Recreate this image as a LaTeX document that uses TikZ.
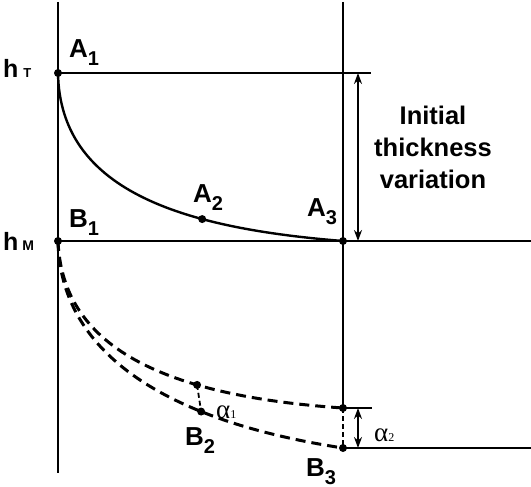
\documentclass[tikz,border=0pt]{standalone}
\usepackage{fontspec}
\setmainfont{Liberation Sans}
\newfontfamily\serifgr{Liberation Serif}
\usetikzlibrary{arrows.meta}
\newcommand\lab[2]{#1\raisebox{-8pt}{\fontsize{20}{20}\selectfont #2}}
\tikzset{
  thinline/.style={line width=1.3pt},
  curveline/.style={line width=2.4pt},
  dashcurve/.style={line width=3pt, dash pattern=on 10pt off 6pt},
  shortdash/.style={line width=1.8pt, dash pattern=on 5pt off 3pt},
  dot/.style={circle, fill=black, inner sep=0pt, minimum size=8pt},
  lbl/.style={font=\bfseries\fontsize{26}{26}\selectfont, inner sep=0pt, anchor=base west},
  hlbl/.style={font=\bfseries\fontsize{25}{25}\selectfont, inner sep=0pt, anchor=base west},
  albl/.style={font=\serifgr\fontsize{27}{27}\selectfont, inner sep=0pt, anchor=base west},
  dimarrow/.style={line width=1.8pt, {Stealth[length=11pt,width=8pt]}-{Stealth[length=11pt,width=8pt]}}
}
\begin{document}
\begin{tikzpicture}[x=1pt,y=-1pt]
\useasboundingbox (0,0) rectangle (531,487);
% reference coordinates
\coordinate (L0) at (58,2);
\coordinate (L1) at (58,473);
\coordinate (R0) at (343,2);
\coordinate (A1) at (58,73);
\coordinate (B1) at (58,241);
\coordinate (A3) at (343,241);
\coordinate (TE) at (371,73);
\coordinate (ME) at (531,241);
\coordinate (C2) at (343,408);
\coordinate (B3) at (343,448);
\coordinate (C2E) at (372,408);
\coordinate (B3E) at (531,448);
\coordinate (ArT) at (358,73);
\coordinate (ArB) at (358,241);
\coordinate (aT) at (358,408);
\coordinate (aB) at (358,448);
% axes and levels
\draw[thinline] (L0) -- (L1);
\draw[thinline] (R0) -- (C2);
\draw[thinline] (A1) -- (TE);
\draw[thinline] (B1) -- (ME);
\draw[thinline] (C2) -- (C2E);
\draw[thinline] (B3) -- (B3E);
% solid curve
\draw[curveline] (A1) .. controls (60,190) and (180,228) .. (A3) coordinate[pos=0.68] (A2);
% dashed curves
\draw[dashcurve] (B1) .. controls (62,340) and (150,395) .. (C2) coordinate[pos=0.7] (C1);
\draw[dashcurve] (B1) .. controls (60,350) and (160,420) .. (B3) coordinate[pos=0.7] (B2);
\draw[shortdash] (C1) -- (B2);
\draw[shortdash] (C2) -- (B3);
% dots
\foreach \p in {A1,B1,A2,A3,C1,B2,C2,B3} \node[dot] (d\p) at (\p) {};
% arrows
\draw[dimarrow] (ArT) -- (ArB);
\draw[dimarrow] (aT) -- (aB);
% labels
\node[lbl] (tA1) at (69,58) {\lab{A}{1}};
\node[lbl] (tB1) at (69,227) {\lab{B}{1}};
\node[lbl] (tA2) at (193,203) {\lab{A}{2}};
\node[lbl] (tA3) at (307,216) {\lab{A}{3}};
\node[lbl] (tB2) at (185,445) {\lab{B}{2}};
\node[lbl] (tB3) at (306,476) {\lab{B}{3}};
\node[hlbl] (thT) at (3,78) {h\hspace{5pt}{\fontsize{13}{13}\selectfont T}};
\node[hlbl] (thM) at (3,250) {h\hspace{4pt}{\fontsize{14}{14}\selectfont M}};
\node[albl] (tal1) at (216,418) {α{\fontsize{12}{12}\selectfont 1}};
\node[albl] (tal2) at (374,441) {α{\fontsize{12}{12}\selectfont 2}};
\node[font=\bfseries\fontsize{25.5}{32}\selectfont, align=center, inner sep=0pt, anchor=base] (txt) at (433,188) {Initial\\thickness\\variation};
\end{tikzpicture}
\end{document}
